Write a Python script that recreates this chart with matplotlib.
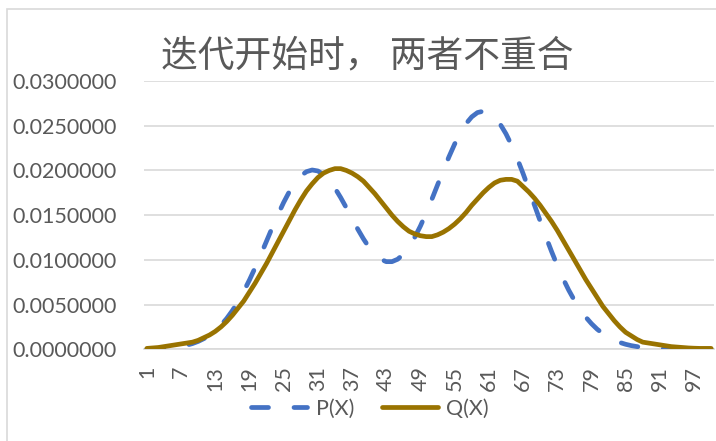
import matplotlib.pyplot as plt
import matplotlib.ticker as ticker
from matplotlib.patches import Rectangle

# categories 1..100 on the x axis
x_cats = list(range(1, 101))

# P(X)
p_vals = [
    0.00003, 0.00004, 0.00007, 0.00010, 0.00015, 0.00022, 0.00032, 0.00046, 0.00064, 0.00088,
    0.00119, 0.00159, 0.00209, 0.00270, 0.00344, 0.00432, 0.00533, 0.00648, 0.00775, 0.00913,
    0.01060, 0.01210, 0.01361, 0.01506, 0.01642, 0.01763, 0.01863, 0.01939, 0.01986, 0.02005,
    0.01994, 0.01955, 0.01890, 0.01802, 0.01697, 0.01582, 0.01463, 0.01344, 0.01235, 0.01138,
    0.01062, 0.01008, 0.00980, 0.00980, 0.01007, 0.01063, 0.01146, 0.01253, 0.01379, 0.01523,
    0.01677, 0.01838, 0.01998, 0.02152, 0.02295, 0.02420, 0.02523, 0.02599, 0.02647, 0.02662,
    0.02645, 0.02595, 0.02516, 0.02410, 0.02280, 0.02130, 0.01966, 0.01792, 0.01613, 0.01435,
    0.01260, 0.01094, 0.00937, 0.00793, 0.00663, 0.00548, 0.00447, 0.00360, 0.00287, 0.00225,
    0.00175, 0.00134, 0.00102, 0.00076, 0.00056, 0.00041, 0.00030, 0.00021, 0.00015, 0.00010,
    0.00007, 0.00005, 0.00003, 0.00002, 0.00001, 0.00001, 0.00001, 0.00000, 0.00000, 0.00000,
]

# Q(X)
q_vals = [
    0.00010, 0.00015, 0.00020, 0.00030, 0.00040, 0.00050, 0.00060, 0.00070, 0.00080, 0.00100,
    0.00130, 0.00160, 0.00200, 0.00250, 0.00310, 0.00380, 0.00460, 0.00540, 0.00640, 0.00740,
    0.00850, 0.00960, 0.01080, 0.01200, 0.01320, 0.01440, 0.01560, 0.01670, 0.01770, 0.01850,
    0.01920, 0.01970, 0.02000, 0.02020, 0.02020, 0.02000, 0.01970, 0.01930, 0.01880, 0.01810,
    0.01740, 0.01660, 0.01580, 0.01500, 0.01430, 0.01370, 0.01320, 0.01290, 0.01270, 0.01260,
    0.01260, 0.01280, 0.01310, 0.01350, 0.01400, 0.01460, 0.01530, 0.01610, 0.01680, 0.01750,
    0.01810, 0.01860, 0.01890, 0.01900, 0.01900, 0.01880, 0.01820, 0.01760, 0.01690, 0.01610,
    0.01520, 0.01430, 0.01330, 0.01220, 0.01110, 0.01000, 0.00890, 0.00780, 0.00680, 0.00580,
    0.00480, 0.00400, 0.00320, 0.00250, 0.00190, 0.00150, 0.00110, 0.00080, 0.00070, 0.00060,
    0.00050, 0.00040, 0.00030, 0.00025, 0.00020, 0.00015, 0.00012, 0.00010, 0.00010, 0.00010,
]

y_ticks = [0.0, 0.005, 0.010, 0.015, 0.020, 0.025, 0.030]
x_ticks = list(range(1, 101, 6))

title_txt = "迭代开始时， 两者不重合"

blue = "#4472C4"
gold = "#997300"
grid_c = "#D9D9D9"
text_c = "#595959"

W, H = 716, 441
fig = plt.figure(figsize=(W / 100, H / 100), dpi=100)

# chart area border (excel style)
fig.patches.append(Rectangle((6.5 / W, -0.1), 2, (H - 8.5) / H + 0.1, transform=fig.transFigure,
                             fill=False, edgecolor=grid_c, linewidth=1.2))

ax = fig.add_axes([144 / W, (H - 349.3) / H, (714 - 144) / W, (349.3 - 81) / H])

ax.plot(x_cats, p_vals, color=blue, linewidth=3.4, dashes=(3.6, 5.4),
        dash_capstyle="round", label="P(X)", zorder=3)
ax.plot(x_cats, q_vals, color=gold, linewidth=3.4, solid_capstyle="round",
        label="Q(X)", zorder=3)

ax.set_xlim(0.5, 100.5)
ax.set_ylim(0, 0.03)

ax.set_yticks(y_ticks)
ax.yaxis.set_major_formatter(ticker.FormatStrFormatter("%.7f"))
ax.set_xticks(x_ticks)
ax.set_xticklabels([str(v) for v in x_ticks], rotation=90)

ax.grid(axis="y", color=grid_c, linewidth=1.2, zorder=0)
ax.set_axisbelow(True)
for s in ["top", "right", "left"]:
    ax.spines[s].set_visible(False)
ax.spines["bottom"].set_color(grid_c)
ax.spines["bottom"].set_linewidth(1.2)

ax.tick_params(axis="y", length=0, pad=19.5, labelsize=15.5, labelcolor=text_c)
ax.tick_params(axis="x", length=0, pad=12, labelsize=15.5, labelcolor=text_c)
for lab in ax.get_xticklabels() + ax.get_yticklabels():
    lab.set_fontfamily("Lato")

fig.text(367 / W, 1 - 56 / H, title_txt, ha="center", va="center", fontsize=26.5,
         color=text_c, family=["Noto Sans CJK SC", "DejaVu Sans"], fontweight="light")

leg = fig.legend(loc="center", bbox_to_anchor=(370 / W, 1 - 409 / H), ncol=2, frameon=False,
                 handlelength=2.6, handletextpad=0.4, columnspacing=1.3,
                 prop={"family": "Lato", "size": 15.5})
for t in leg.get_texts():
    t.set_color(text_c)

fig.savefig("out.png", dpi=100)
